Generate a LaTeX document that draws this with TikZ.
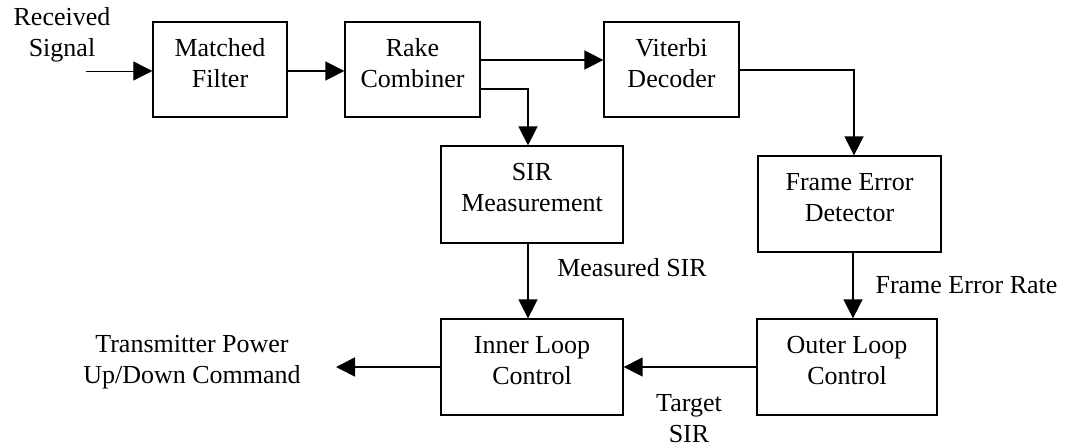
\documentclass[tikz,border=0pt]{standalone}
\usepackage{fontspec}
\setmainfont{Liberation Serif}
\usetikzlibrary{arrows.meta}

% text size of every label and block
\newcommand\diagfont{\fontsize{26}{31}\selectfont}
% extra depth that lifts block text a little above the block centre
\newcommand\lift{\rule[-14pt]{0pt}{0pt}}

\begin{document}
\begin{tikzpicture}[x=1pt, y=-1pt,
  font=\diagfont,
  block/.style={draw, line width=1.3pt, align=center, inner sep=0pt,
                minimum height=96pt},
  flow/.style={line width=1.6pt, -{Triangle[length=19pt,width=19pt]}},
  thinflow/.style={line width=0.8pt, -{Triangle[length=19pt,width=19pt]}},
  tag/.style={align=center, inner sep=0pt, anchor=base}]

  \useasboundingbox (0,0) rectangle (1067,446);

  % processing blocks
  \node[block, minimum width=134pt, minimum height=95pt] (mf)    at (220,69.5)  {Matched\\Filter\lift};
  \node[block, minimum width=135pt, minimum height=95pt] (rake)  at (412.5,69.5) {Rake\\Combiner\lift};
  \node[block, minimum width=135pt, minimum height=95pt] (vit)   at (671.5,69.5) {Viterbi\\Decoder\lift};
  \node[block, minimum width=182pt, minimum height=97pt] (sir)   at (532,194.5) {SIR\\Measurement\lift};
  \node[block, minimum width=183pt] (fed)   at (849.5,204) {Frame Error\\Detector\lift};
  \node[block, minimum width=182pt] (inner) at (532,367)   {Inner Loop\\Control\lift};
  \node[block, minimum width=180pt] (outer) at (847,367)   {Outer Loop\\Control\lift};

  % free ends of the input and output connectors
  \coordinate (in)  at (86,71);
  \coordinate (out) at (336,367);

  % signal labels (base anchor sits on the last line's baseline)
  \node[tag] (lrx)  at (62,57)     {Received\\Signal};
  \node[tag] (lmsr) at (632,276.5) {Measured SIR};
  \node[tag] (lfer) at (966.5,293) {Frame Error Rate};
  \node[tag] (ltgt) at (689,442)   {Target\\SIR};
  \node[tag] (ltx)  at (192,383)   {Transmitter Power\\Up/Down Command};

  % connectors
  \draw[thinflow] (in) -- (in -| mf.west);
  \draw[flow] ([yshift=-1.5pt]mf.east) -- ([yshift=-1.5pt]rake.west);
  \draw[flow] ([yshift=9.5pt]rake.east) -- ([yshift=9.5pt]vit.west);
  \draw[flow] ([yshift=-19.5pt]rake.east) -| ([xshift=-4pt]sir.north);
  \draw[flow] ([yshift=-0.5pt]vit.east) -| ([xshift=4.5pt]fed.north);
  \draw[flow] ([xshift=-4pt]sir.south) -- ([xshift=-4pt]inner.north);
  \draw[flow] ([xshift=3.5pt]fed.south) -- ([xshift=3.5pt]fed.south |- outer.north);
  \draw[flow] (outer.west) -- (inner.east);
  \draw[flow] (inner.west) -- (out);
\end{tikzpicture}
\end{document}
